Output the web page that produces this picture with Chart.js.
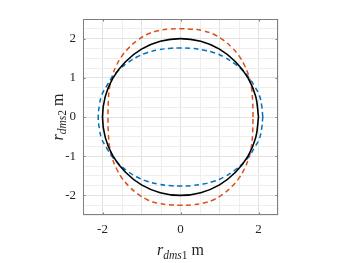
<!DOCTYPE html>
<html>
<head>
<meta charset="utf-8">
<script src="https://cdn.jsdelivr.net/npm/chart.js@4.4.1/dist/chart.umd.min.js"></script>
<style>
html,body{margin:0;padding:0;background:#fff;}
#wrap{width:350px;height:263px;position:relative;}
</style>
</head>
<body>
<div id="wrap"><canvas id="c" width="350" height="263"></canvas></div>
<script>
// Reference circle (black, solid)
const circleX = [2, 1.93, 1.73, 1.41, 1, 0.52, 0, -0.52, -1, -1.41, -1.73, -1.93, -2, -1.93, -1.73, -1.41, -1, -0.52, 0, 0.52, 1, 1.41, 1.73, 1.93, 2];
const circleY = [0, 0.52, 1, 1.41, 1.73, 1.93, 2, 1.93, 1.73, 1.41, 1, 0.52, 0, -0.52, -1, -1.41, -1.73, -1.93, -2, -1.93, -1.73, -1.41, -1, -0.52, 0];

// Orange dashed curve
const orangeX = [1.86, 1.85, 1.82, 1.75, 1.64, 1.50, 1.32, 1.10, 0.85, 0.58, 0.29, 0,
  -0.29, -0.58, -0.85, -1.10, -1.32, -1.50, -1.64, -1.75, -1.82, -1.85, -1.86,
  -1.85, -1.82, -1.75, -1.64, -1.50, -1.32, -1.10, -0.85, -0.58, -0.29, 0,
  0.29, 0.58, 0.85, 1.10, 1.32, 1.50, 1.64, 1.75, 1.82, 1.85, 1.86];
const orangeY = [0, 0.40, 0.75, 1.05, 1.32, 1.56, 1.77, 1.96, 2.11, 2.20, 2.24, 2.25,
  2.24, 2.20, 2.11, 1.96, 1.77, 1.56, 1.32, 1.05, 0.75, 0.40, 0,
  -0.40, -0.75, -1.05, -1.32, -1.56, -1.77, -1.96, -2.11, -2.20, -2.24, -2.25,
  -2.24, -2.20, -2.11, -1.96, -1.77, -1.56, -1.32, -1.05, -0.75, -0.40, 0];

// Blue dashed curve
const blueX = [2.11, 2.08, 2.02, 1.90, 1.76, 1.58, 1.36, 1.12, 0.86, 0.58, 0.29, 0,
  -0.29, -0.58, -0.86, -1.12, -1.36, -1.58, -1.76, -1.90, -2.02, -2.08, -2.11,
  -2.08, -2.02, -1.90, -1.76, -1.58, -1.36, -1.12, -0.86, -0.58, -0.29, 0,
  0.29, 0.58, 0.86, 1.12, 1.36, 1.58, 1.76, 1.90, 2.02, 2.08, 2.11];
const blueY = [0, 0.30, 0.56, 0.78, 1.00, 1.20, 1.38, 1.53, 1.64, 1.71, 1.75, 1.76,
  1.75, 1.71, 1.64, 1.53, 1.38, 1.20, 1.00, 0.78, 0.56, 0.30, 0,
  -0.30, -0.56, -0.78, -1.00, -1.20, -1.38, -1.53, -1.64, -1.71, -1.75, -1.76,
  -1.75, -1.71, -1.64, -1.53, -1.38, -1.20, -1.00, -0.78, -0.56, -0.30, 0];

const xTickLabels = [-2, 0, 2];
const yTickLabels = [-2, -1, 0, 1, 2];
const xTitle = [["r","i"],["dms","si"],["1","s"],[" m","n"]];
const yTitle = [["r","i"],["dms","si"],["2","s"],[" m","n"]];

const toPts = (xs, ys) => xs.map((x, i) => ({x: x, y: ys[i]}));
const SERIF = '"Liberation Serif", "DejaVu Serif", serif';

function drawTitle(ctx, segs) {
  const fonts = {
    i: 'italic 16px ' + SERIF,
    si: 'italic 11.5px ' + SERIF,
    s: '11.5px ' + SERIF,
    n: '16px ' + SERIF
  };
  let total = 0;
  const w = segs.map(s => { ctx.font = fonts[s[1]]; const m = ctx.measureText(s[0]).width; total += m; return m; });
  let x = -total / 2;
  ctx.textBaseline = 'alphabetic';
  ctx.textAlign = 'left';
  segs.forEach((s, i) => {
    ctx.font = fonts[s[1]];
    const dy = (s[1] === 'si' || s[1] === 's') ? 3.5 : 0;
    ctx.fillText(s[0], x, dy);
    x += w[i];
  });
}

const framePlugin = {
  id: 'frame',
  afterDraw(chart) {
    const {ctx, chartArea: a, scales} = chart;
    ctx.save();
    ctx.strokeStyle = '#7f7f7f';
    ctx.lineWidth = 1;
    ctx.strokeRect(Math.round(a.left) + 0.5, Math.round(a.top) + 0.5,
      Math.round(a.right - a.left) - 1, Math.round(a.bottom - a.top) - 1);
    // inward tick marks
    ctx.beginPath();
    xTickLabels.forEach(v => {
      const px = Math.round(scales.x.getPixelForValue(v)) + 0.5;
      ctx.moveTo(px, a.bottom); ctx.lineTo(px, a.bottom - 2.5);
      ctx.moveTo(px, a.top); ctx.lineTo(px, a.top + 2.5);
    });
    yTickLabels.forEach(v => {
      const py = Math.round(scales.y.getPixelForValue(v)) + 0.5;
      ctx.moveTo(a.left, py); ctx.lineTo(a.left + 2.5, py);
      ctx.moveTo(a.right, py); ctx.lineTo(a.right - 2.5, py);
    });
    ctx.stroke();
    // axis titles
    ctx.fillStyle = '#262626';
    ctx.save();
    ctx.translate((a.left + a.right) / 2, 255);
    drawTitle(ctx, xTitle);
    ctx.restore();
    ctx.save();
    ctx.translate(62.5, (a.top + a.bottom) / 2);
    ctx.rotate(-Math.PI / 2);
    drawTitle(ctx, yTitle);
    ctx.restore();
    ctx.restore();
  }
};

const gridColor = (vals) => (c) => {
  const v = c.tick ? c.tick.value : null;
  if (v === null) return '#ececec';
  return vals.some(t => Math.abs(t - v) < 1e-6) ? '#e2e2e2' : '#eeeeee';
};

new Chart(document.getElementById('c'), {
  type: 'scatter',
  data: {
    datasets: [
      {data: toPts(circleX, circleY), showLine: true, borderColor: '#000000', borderWidth: 1.6,
       pointRadius: 0, tension: 0.4, fill: false},
      {data: toPts(blueX, blueY), showLine: true, borderColor: '#0072BD', borderWidth: 1.5,
       borderDash: [5, 3.5], pointRadius: 0, tension: 0.4, fill: false},
      {data: toPts(orangeX, orangeY), showLine: true, borderColor: '#D95319', borderWidth: 1.5,
       borderDash: [5, 3.5], pointRadius: 0, tension: 0.4, fill: false}
    ]
  },
  options: {
    responsive: false,
    animation: false,
    devicePixelRatio: 1,
    layout: {padding: {left: 0, right: 72, top: 19, bottom: 0}},
    plugins: {legend: {display: false}, tooltip: {enabled: false}},
    scales: {
      x: {
        type: 'linear', min: -2.5, max: 2.5,
        afterFit(s) { s.height = 48; },
        border: {display: false},
        grid: {color: gridColor([-2, -1, 0, 1, 2]), drawTicks: false, lineWidth: 1},
        ticks: {
          stepSize: 0.5, autoSkip: false, maxRotation: 0, padding: 7,
          color: '#262626', font: {family: SERIF, size: 13},
          callback: (v) => xTickLabels.some(t => Math.abs(t - v) < 1e-6) ? String(Math.round(v)) : ''
        }
      },
      y: {
        type: 'linear', min: -2.5, max: 2.5,
        afterFit(s) { s.width = 83; },
        border: {display: false},
        grid: {color: gridColor([-2, -1, 0, 1, 2]), drawTicks: false, lineWidth: 1},
        ticks: {
          stepSize: 0.25, autoSkip: false, padding: 7,
          color: '#262626', font: {family: SERIF, size: 13},
          callback: (v) => yTickLabels.some(t => Math.abs(t - v) < 1e-6) ? String(Math.round(v)) : ''
        }
      }
    }
  },
  plugins: [framePlugin]
});
</script>
</body>
</html>
